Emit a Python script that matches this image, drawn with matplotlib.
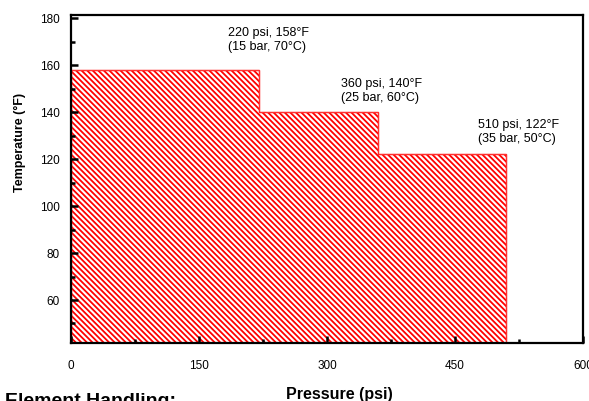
import matplotlib
matplotlib.use("Agg")
import matplotlib.pyplot as plt
from matplotlib.ticker import MultipleLocator

# Data
pressure_edges_psi = [0, 220, 360, 510]
temperature_F = [158, 140, 122]
pressure_bar = [15, 25, 35]
temperature_C = [70, 60, 50]
x_ticks = [0, 150, 300, 450, 600]
y_ticks = [60, 80, 100, 120, 140, 160, 180]

# label anchor offsets (layout only)
label_dx = [-36, -44, -33]
label_dy = [12.6, 8.9, 9.5]

plt.rcParams['font.family'] = ['Liberation Sans', 'DejaVu Sans']
plt.rcParams['hatch.linewidth'] = 1.3

fig = plt.figure(figsize=(5.89, 4.01), dpi=100)
ax = fig.add_axes([71/589, 1 - 343/401, 512/589, 328/401])

ax.stairs(temperature_F, pressure_edges_psi, baseline=0, fill=True,
          facecolor='white', edgecolor='#ff0000', hatch='\\' * 6, linewidth=0.8)
ax.stairs(temperature_F, pressure_edges_psi, baseline=0, fill=False,
          color='#ff3030', linewidth=1.0)

ax.set_xlim(0, 600)
ax.set_ylim(41.7, 181.3)
ax.set_xticks(x_ticks)
ax.set_yticks(y_ticks)
ax.xaxis.set_minor_locator(MultipleLocator(75))
ax.yaxis.set_minor_locator(MultipleLocator(10))
ax.tick_params(which='both', direction='in', width=1.8, labelsize=8.5, colors='black')
ax.tick_params(which='major', length=5)
ax.tick_params(which='minor', length=3)
ax.tick_params(axis='x', which='major', pad=12)
ax.tick_params(axis='y', which='major', pad=8)
for s in ax.spines.values():
    s.set_linewidth(1.6)

for i, (p, t, b, c) in enumerate(zip(pressure_edges_psi[1:], temperature_F, pressure_bar, temperature_C)):
    ax.text(p + label_dx[i], t + label_dy[i], f"{p} psi, {t}°F\n({b} bar, {c}°C)",
            ha='left', va='center', fontsize=9, linespacing=1.3)

ax.set_xlabel('Pressure (psi)', fontsize=11.5, fontweight='bold')
ax.xaxis.label.set_va('center')
ax.xaxis.set_label_coords((339 - 71) / 512, (343 - 394) / 328)
ax.set_ylabel('Temperature (°F)', fontsize=9, fontweight='bold')
ax.yaxis.label.set_va('center')
ax.yaxis.set_label_coords((20 - 71) / 512, (343 - 142) / 328)

fig.text(5 / 589, (401 - 406) / 401, 'Element Handling:', fontsize=14,
         fontweight='bold', ha='left', va='baseline')

fig.savefig('out.png', dpi=100)
